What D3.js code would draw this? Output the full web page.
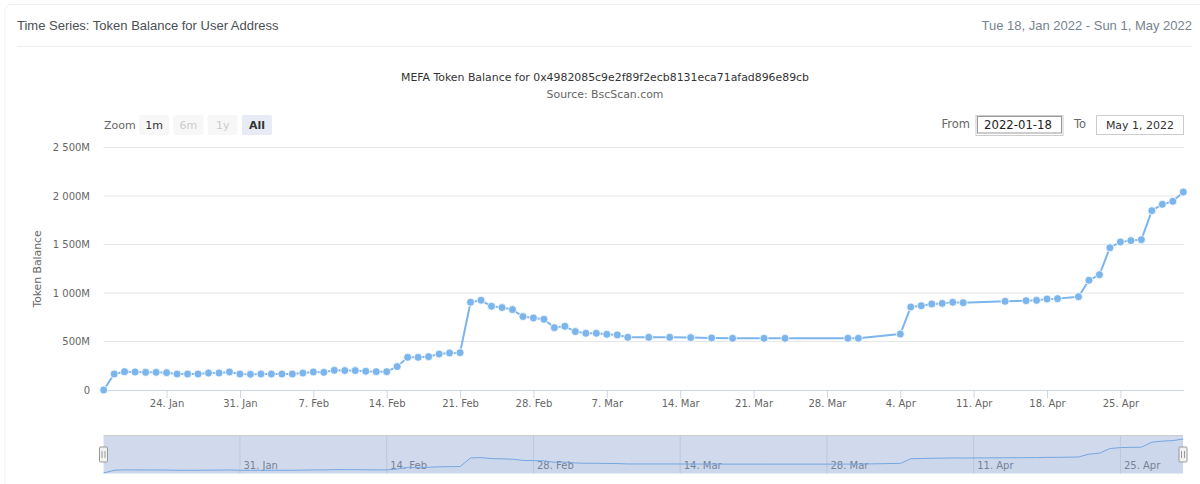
<!DOCTYPE html>
<html>
<head>
<meta charset="utf-8">
<title>Token Balance</title>
<script src="https://cdn.jsdelivr.net/npm/d3@7"></script>
<style>
html, body { margin: 0; padding: 0; background: #fff; overflow: hidden; }
svg { display: block; }
text { font-family: "DejaVu Sans", Verdana, sans-serif; }
.head { font-family: "Liberation Sans", Arial, sans-serif; font-size: 13px; }
.axis text { font-size: 10px; fill: #666; }
.axis path, .axis line { stroke: #ccd6eb; }
</style>
</head>
<body>
<svg id="chart" width="1200" height="484"></svg>
<script>
const dates = [
    '2022-01-18','2022-01-19','2022-01-20','2022-01-21','2022-01-22','2022-01-23','2022-01-24','2022-01-25',
    '2022-01-26','2022-01-27','2022-01-28','2022-01-29','2022-01-30','2022-01-31','2022-02-01','2022-02-02',
    '2022-02-03','2022-02-04','2022-02-05','2022-02-06','2022-02-07','2022-02-08','2022-02-09','2022-02-10',
    '2022-02-11','2022-02-12','2022-02-13','2022-02-14','2022-02-15','2022-02-16','2022-02-17','2022-02-18',
    '2022-02-19','2022-02-20','2022-02-21','2022-02-22','2022-02-23','2022-02-24','2022-02-25','2022-02-26',
    '2022-02-27','2022-02-28','2022-03-01','2022-03-02','2022-03-03','2022-03-04','2022-03-05','2022-03-06',
    '2022-03-07','2022-03-08','2022-03-09','2022-03-11','2022-03-13','2022-03-15','2022-03-17','2022-03-19',
    '2022-03-22','2022-03-24','2022-03-30','2022-03-31','2022-04-04','2022-04-05','2022-04-06','2022-04-07',
    '2022-04-08','2022-04-09','2022-04-10','2022-04-14','2022-04-16','2022-04-17','2022-04-18','2022-04-19',
    '2022-04-21','2022-04-22','2022-04-23','2022-04-24','2022-04-25','2022-04-26','2022-04-27','2022-04-28',
    '2022-04-29','2022-04-30','2022-05-01'
];
// Token balance in millions
const balances = [
    0,165,189,186,182,182,179,165,
    165,165,175,175,186,165,162,165,
    165,165,165,175,186,182,203,200,
    200,193,189,189,241,337,337,344,
    371,382,385,905,925,863,850,829,
    757,743,729,643,657,602,585,585,
    574,568,543,543,543,540,537,533,
    533,533,533,533,577,856,869,887,
    893,904,900,914,921,924,938,942,
    962,1131,1189,1467,1526,1540,1550,1849,
    1914,1945,2041
];
const yTicks = [0, 500, 1000, 1500, 2000, 2500];
const xTicks = ['2022-01-24','2022-01-31','2022-02-07','2022-02-14','2022-02-21','2022-02-28','2022-03-07',
    '2022-03-14','2022-03-21','2022-03-28','2022-04-04','2022-04-11','2022-04-18','2022-04-25'];
const navTicks = ['2022-01-31','2022-02-14','2022-02-28','2022-03-14','2022-03-28','2022-04-11','2022-04-25'];
const zoomButtons = ['1m', '6m', '1y', 'All'];

const parseDay = d3.utcParse('%Y-%m-%d');
const tickFmt = d3.utcFormat('%-d. %b');
const spaced = d3.formatLocale({ decimal: '.', thousands: ' ', grouping: [3], currency: ['', ''] }).format(',');
const points = dates.map((d, i) => ({ date: parseDay(d), value: balances[i] }));

const svg = d3.select('#chart');

// Karte und Kopfzeile
svg.append('rect').attr('x', 5).attr('y', 4.5).attr('width', 1300).attr('height', 600).attr('rx', 6)
    .attr('fill', '#fff').attr('stroke', '#eef0f5');
svg.append('text').attr('class', 'head').attr('x', 17).attr('y', 30).attr('fill', '#4a4f55')
    .text('Time Series: Token Balance for User Address');
svg.append('text').attr('class', 'head').attr('x', 1192).attr('y', 30).attr('text-anchor', 'end').attr('fill', '#77838f')
    .text('Tue 18, Jan 2022 - Sun 1, May 2022');
svg.append('line').attr('x1', 17).attr('x2', 1192).attr('y1', 46.5).attr('y2', 46.5).attr('stroke', '#eceef3');

// Titel
svg.append('text').attr('x', 605).attr('y', 81).attr('text-anchor', 'middle').attr('font-size', 10.9).attr('fill', '#333')
    .text('MEFA Token Balance for 0x4982085c9e2f89f2ecb8131eca71afad896e89cb');
svg.append('text').attr('x', 605).attr('y', 98).attr('text-anchor', 'middle').attr('font-size', 10.9).attr('fill', '#666')
    .text('Source: BscScan.com');

// Skalen
const xScale = d3.scaleUtc()
    .domain([parseDay(dates[0]), parseDay(dates[dates.length - 1])])
    .range([103.7, 1183.3]);
const yScale = d3.scaleLinear().domain([0, 2500]).range([390, 147.5]);
const navY = d3.scaleLinear().domain([0, d3.max(balances)]).range([473, 439]);

// Range Selector
svg.append('text').attr('x', 104).attr('y', 129).attr('font-size', 11).attr('fill', '#666').text('Zoom');
const btnX = d3.scalePoint().domain(zoomButtons).range([139, 242]);
zoomButtons.forEach(label => {
    const active = label === 'All';
    const disabled = label === '6m' || label === '1y';
    svg.append('rect').attr('x', btnX(label)).attr('y', 115).attr('width', 30).attr('height', 20).attr('rx', 2)
        .attr('fill', active ? '#e6ebf5' : '#f7f7f7');
    svg.append('text').attr('x', btnX(label) + 15).attr('y', 129).attr('text-anchor', 'middle')
        .attr('font-size', 11).attr('font-weight', active ? 'bold' : 'normal')
        .attr('fill', disabled ? '#ccc' : '#333').text(label);
});

// Datumsfelder
svg.append('text').attr('x', 970).attr('y', 128).attr('text-anchor', 'end').attr('font-size', 11.5).attr('fill', '#666').text('From');
svg.append('rect').attr('x', 976).attr('y', 115.5).attr('width', 87).attr('height', 20).attr('fill', '#fff').attr('stroke', '#ccc');
svg.append('rect').attr('x', 977.5).attr('y', 116.5).attr('width', 84).attr('height', 16.5).attr('fill', '#fff').attr('stroke', '#999');
svg.append('text').attr('x', 1018).attr('y', 129).attr('text-anchor', 'middle').attr('font-size', 11.7).attr('fill', '#222').text('2022-01-18');
svg.append('text').attr('x', 1074).attr('y', 128).attr('font-size', 11.5).attr('fill', '#666').text('To');
svg.append('rect').attr('x', 1096.5).attr('y', 115.5).attr('width', 87).attr('height', 19).attr('fill', '#fff').attr('stroke', '#ccc');
svg.append('text').attr('x', 1140).attr('y', 129).attr('text-anchor', 'middle').attr('font-size', 11).attr('fill', '#333').text('May 1, 2022');

// Gitter
svg.append('g').selectAll('line').data(yTicks.filter(d => d > 0)).enter().append('line')
    .attr('x1', 103.5).attr('x2', 1184)
    .attr('y1', d => yScale(d)).attr('y2', d => yScale(d))
    .attr('stroke', '#e6e6e6');

// Achsen
const xAxis = d3.axisBottom(xScale)
    .tickValues(xTicks.map(parseDay))
    .tickFormat(tickFmt)
    .tickSize(8)
    .tickPadding(2);
svg.append('g').attr('class', 'axis x-axis').attr('transform', 'translate(0,390)').call(xAxis);
svg.select('.x-axis .domain').attr('d', 'M103.5,0.5H1184');

const yAxis = d3.axisLeft(yScale)
    .tickValues(yTicks)
    .tickSize(0)
    .tickPadding(13.5)
    .tickFormat(d => d === 0 ? '0' : spaced(d) + 'M');
svg.append('g').attr('class', 'axis y-axis').attr('transform', 'translate(103.5,0)').call(yAxis);
svg.select('.y-axis .domain').remove();

svg.append('text').attr('transform', 'translate(41,269) rotate(-90)').attr('text-anchor', 'middle')
    .attr('font-size', 10.8).attr('fill', '#666').text('Token Balance');

// Linie und Punkte
const line = d3.line().x(d => xScale(d.date)).y(d => yScale(d.value));
svg.append('path').datum(points).attr('d', line)
    .attr('fill', 'none').attr('stroke', '#7cb5ec').attr('stroke-width', 2).attr('stroke-linejoin', 'round');
svg.append('g').selectAll('circle').data(points).enter().append('circle')
    .attr('cx', d => xScale(d.date)).attr('cy', d => yScale(d.value)).attr('r', 4)
    .attr('fill', '#7cb5ec').attr('stroke', '#fff').attr('stroke-width', 0.8);

// Navigator
const nav = svg.append('g').attr('class', 'navigator');
const navArea = d3.area().x(d => xScale(d.date)).y0(473.5).y1(d => navY(d.value));
const navLine = d3.line().x(d => xScale(d.date)).y(d => navY(d.value));
nav.selectAll('line.grid').data(navTicks).enter().append('line').attr('class', 'grid')
    .attr('x1', d => xScale(parseDay(d))).attr('x2', d => xScale(parseDay(d)))
    .attr('y1', 436).attr('y2', 473.5).attr('stroke', '#e6e6e6');
nav.selectAll('text').data(navTicks).enter().append('text')
    .attr('x', d => xScale(parseDay(d)) + 3.5).attr('y', 469)
    .attr('font-size', 10).attr('fill', '#808080').text(d => tickFmt(parseDay(d)));
nav.append('path').datum(points).attr('d', navArea).attr('fill', '#7cb5ec').attr('fill-opacity', 0.05);
nav.append('path').datum(points).attr('d', navLine).attr('fill', 'none').attr('stroke', '#7cb5ec').attr('stroke-width', 1);
nav.append('rect').attr('x', 103.5).attr('y', 436).attr('width', 1079.5).attr('height', 37.5)
    .attr('fill', 'rgb(102,133,194)').attr('fill-opacity', 0.3);
nav.append('line').attr('x1', 103.5).attr('x2', 1183).attr('y1', 435.5).attr('y2', 435.5).attr('stroke', '#ccc');

// Griffe
[103.5, 1183].forEach(hx => {
    const h = nav.append('g').attr('transform', `translate(${hx},447)`);
    h.append('rect').attr('x', -4).attr('y', 0).attr('width', 8).attr('height', 15).attr('rx', 1)
        .attr('fill', '#f2f2f2').attr('stroke', '#999');
    [-1.5, 1.5].forEach(dx => {
        h.append('line').attr('x1', dx).attr('x2', dx).attr('y1', 4).attr('y2', 11).attr('stroke', '#999');
    });
});
</script>
</body>
</html>
